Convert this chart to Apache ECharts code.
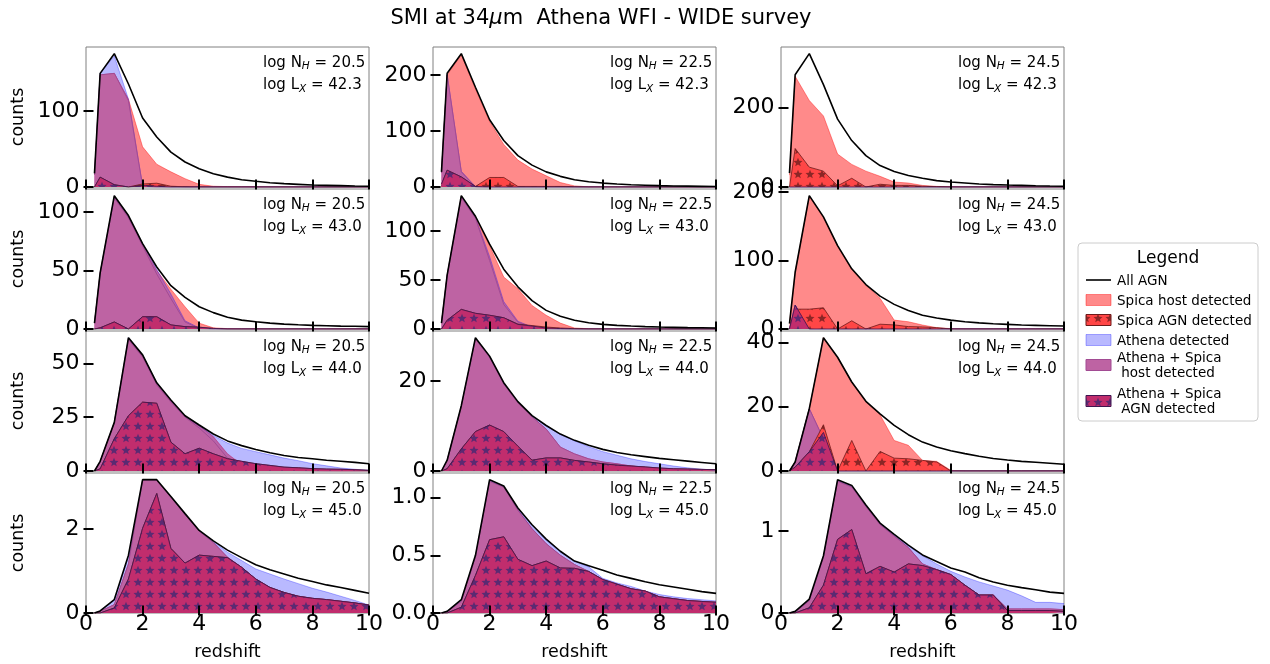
<!DOCTYPE html>
<html>
<head>
<meta charset="utf-8">
<script src="https://cdn.jsdelivr.net/npm/echarts@6/dist/echarts.min.js"></script>
<style>html,body{margin:0;padding:0;background:#fff}#chart{width:1270px;height:664px}</style>
</head>
<body>
<div id="chart"></div>
<script>
// ---------------- data ----------------
const redshift = [0.3,0.5,1,1.5,2,2.5,3,3.5,4,4.5,5,5.5,6,6.5,7,7.5,8,8.5,9,9.5,10];
const xTickStep = 2;
const nhLabels = ['20.5','22.5','24.5'];          // columns
const lxLabels = ['42.3','43.0','44.0','45.0'];   // rows
const yTickStep = [100,100,200, 50,50,100, 25,20,20, 2,0.5,1];
const yTickDecimals = [0,0,0, 0,0,0, 0,0,0, 0,1,0];

// panels in reading order: row (log Lx) by column (log NH)
const allAGN = [
  [18,150,176,136,91,66,46,33,24,17.5,13,9.6,7.5,5.7,4.4,3.5,2.6,2.2,1.8,1.3,1],
  [27,203,238,178,120,83,56,39,27,19,13,9.5,7,5.3,4,3.2,2.4,1.8,1.5,1.2,0.9],
  [35,283,336,258,171,117,79,54,39,29,22,16,12.5,10,7.5,6,5,4.2,3.3,2.5,2],
  [5,48,114,97,73,53,37,27,19,14,10,7.6,6.2,5,4.2,3.6,3.1,2.8,2.5,2.3,2],
  [6,55,136,115,86.5,61,43,29,19,13,9,6.4,4.7,3.7,3,2.4,2,1.7,1.4,1.2,1],
  [8,83,195,164,122,88,65,48,36,27,20,16,13,10.6,9,7.7,6.8,5.8,5.3,4.8,4.3],
  [0,4.5,22.6,62,54,41,33,25.7,21.4,17.2,14,11.8,10,8.5,7.2,6.3,5.7,5,4.5,4,3.4],
  [0,2.4,14.5,29.6,25.5,19.6,15.4,12.3,10.1,8.2,6.8,5.7,4.8,4.1,3.6,3.2,2.8,2.5,2.2,1.9,1.6],
  [0,2.8,19.4,41.5,35.4,27.7,21.7,17.8,14.2,11.3,9,7.5,6.3,5.4,4.6,3.9,3.4,3,2.7,2.4,2.1],
  [0,0.05,0.32,1.38,3.18,3.18,2.78,2.37,1.97,1.72,1.5,1.32,1.15,1.03,0.93,0.83,0.75,0.67,0.61,0.54,0.47],
  [0,0.015,0.115,0.5,1.155,1.1,0.91,0.765,0.64,0.535,0.45,0.41,0.37,0.33,0.3,0.27,0.245,0.225,0.205,0.185,0.17],
  [0,0.02,0.17,0.7,1.63,1.56,1.32,1.1,0.96,0.83,0.71,0.63,0.55,0.5,0.43,0.38,0.34,0.31,0.285,0.255,0.24]
];
const spicaHost = [
  [16,148,150,116,53,30,20,11,3.5,1,0.5,0.3,0.2,0.1,0,0,0,0,0,0,0],
  [26,200,236,175,117,76,48,32,20,8,2,0.3,0,0,0,0,0,0,0,0,0],
  [30,279,218,179,83,57,40,27,12.5,10,4,1.5,0.5,0,0,0,0,0,0,0,0],
  [5,48,113,96,72,50,34,19,5,1,0.3,0,0,0,0,0,0,0,0,0,0],
  [6,55,135,114,85,53,41,24,14,6,1,0.3,0,0,0,0,0,0,0,0,0],
  [8,83,194,163,121,87,64,45,13,10.6,5.8,2,0.5,0,0,0,0,0,0,0,0],
  [0,4.4,22.4,61.5,53.5,40.5,32.5,25,21,16,8,3,1,0.6,0.4,0.3,0.2,0.1,0,0,0],
  [0,2.3,14.3,29.3,25.2,19.3,15.1,12,9.3,5.3,3.8,2.7,2,1.6,1.1,0.8,0.5,0.3,0.2,0.1,0],
  [0,2.8,19.4,41.5,35.4,27.7,21.7,17.5,9.5,8,3.3,3,0.2,0,0,0,0,0,0,0,0],
  [0,0.04,0.2,1.17,3.16,3.16,2.76,2.35,1.95,1.68,1.33,1.09,0.81,0.61,0.49,0.4,0.35,0.32,0.28,0.24,0.19],
  [0,0.01,0.1,0.48,1.14,1.09,0.89,0.73,0.6,0.5,0.42,0.36,0.29,0.25,0.21,0.19,0.14,0.124,0.108,0.1,0.093],
  [0,0.01,0.15,0.68,1.61,1.54,1.3,1.08,0.94,0.8,0.6,0.53,0.47,0.34,0.22,0.22,0.05,0.05,0.05,0.05,0.04]
];
const spicaAGN = [
  [0,13,3,0,4,5,1,0.3,0,0,0,0,0,0,0,0,0,0,0,0,0],
  [5,30,18,1,17,17,1,1,1,1,0.5,0,0,0,0,0,0,0,0,0,0],
  [0,97,50,40,3,22,0,7,4,4,2,1,0,0,0,0,0,0,0,0,0],
  [0,1,6,0,10.5,10.5,3.5,2,1.5,0.5,0,0,0,0,0,0,0,0,0,0,0],
  [0,9,20,16,14,11.5,5,3.5,2,1,0.5,0,0,0,0,0,0,0,0,0,0],
  [0,29,29,31,0,12,0,7,6,3.5,3,2,0,0,0,0,0,0,0,0,0],
  [0,1,15,25.7,32,31.5,13.4,8,10.6,8,5.7,4.5,3.4,2.6,1.8,1.5,1.1,0.9,0.8,0.6,0.3],
  [0,0.5,4.9,8.75,10.2,8.75,5.5,2.4,2.9,2.9,2.35,2,1.6,1.3,1.1,0.9,0.66,0.5,0.45,0.35,0.3],
  [0,1.2,6,14.4,0,9.5,0,6.1,4,3.8,3.3,2.8,0,0,0,0,0,0,0,0,0],
  [0,0,0.12,0.81,2.02,2.85,1.54,1.19,1.38,1.35,1.32,1.09,0.81,0.61,0.49,0.4,0.35,0.32,0.28,0.24,0.19],
  [0,0,0.05,0.325,0.635,0.66,0.465,0.41,0.45,0.39,0.387,0.36,0.29,0.25,0.21,0.19,0.14,0.124,0.108,0.1,0.093],
  [0,0,0.064,0.34,0.9,1.02,0.48,0.57,0.5,0.6,0.58,0.53,0.47,0.34,0.22,0.22,0.03,0.03,0.03,0.03,0.02]
];
const athena = [
  [17,150,173,116,2,0,0,0,0,0,0,0,0,0,0,0,0,0,0,0,0],
  [26,201,28,1,0,0,0,0,0,0,0,0,0,0,0,0,0,0,0,0,0],
  [0,0,0,0,0,0,0,0,0,0,0,0,0,0,0,0,0,0,0,0,0],
  [5,48,113,96,73,51,30,7,1,0,0,0,0,0,0,0,0,0,0,0,0],
  [6,55,135,114,74,28,8,2,0.5,0,0,0,0,0,0,0,0,0,0,0,0],
  [0,35,0,0,0,0,0,0,0,0,0,0,0,0,0,0,0,0,0,0,0],
  [0,4.5,22.5,62,54,41,33,25.5,21,16.5,13,10.5,9,7.5,6,4.8,3.4,2.4,1.4,0.8,0.3],
  [0,2.4,14.4,29.5,25.4,19.5,15.3,12.2,10,8.1,6.7,5.4,4.3,3.5,2.7,2.1,1.6,1.1,0.7,0.4,0.15],
  [0,2.8,19.4,10,0,0,0,0,0,0,0,0,0,0,0,0,0,0,0,0,0],
  [0,0.05,0.3,1.35,3.17,3.17,2.77,2.36,1.96,1.7,1.45,1.25,1.05,0.93,0.81,0.7,0.59,0.5,0.4,0.3,0.19],
  [0,0.015,0.11,0.49,1.15,1.095,0.9,0.75,0.63,0.53,0.45,0.4,0.3,0.26,0.23,0.19,0.16,0.14,0.125,0.115,0.105],
  [0,0.02,0.16,0.69,1.62,1.55,1.31,1.09,0.95,0.82,0.7,0.6,0.51,0.44,0.38,0.33,0.28,0.21,0.13,0.13,0.115]
];
const bothHost = [
  [16,148,150,114,1,0,0,0,0,0,0,0,0,0,0,0,0,0,0,0,0],
  [25,200,27,0,0,0,0,0,0,0,0,0,0,0,0,0,0,0,0,0,0],
  [0,0,0,0,0,0,0,0,0,0,0,0,0,0,0,0,0,0,0,0,0],
  [5,47,112,95,71,47,26,6,0.5,0,0,0,0,0,0,0,0,0,0,0,0],
  [6,54,134,113,70,25,7,2,0.3,0,0,0,0,0,0,0,0,0,0,0,0],
  [0,35,0,0,0,0,0,0,0,0,0,0,0,0,0,0,0,0,0,0,0],
  [0,4.3,22.3,61,53,40,32,25,20,14,6,2,0.7,0.5,0.3,0.2,0.1,0,0,0,0],
  [0,2.3,14.3,29.3,25.2,19.3,15.1,12,9.3,5.3,3.8,2.7,2,1.6,1.1,0.8,0.5,0.3,0.2,0.1,0],
  [0,2.8,19.4,10,0,0,0,0,0,0,0,0,0,0,0,0,0,0,0,0,0],
  [0,0.04,0.2,1.17,3.16,3.16,2.76,2.35,1.95,1.68,1.33,1.09,0.81,0.61,0.49,0.4,0.35,0.32,0.28,0.24,0.19],
  [0,0.01,0.1,0.48,1.14,1.09,0.89,0.73,0.6,0.5,0.42,0.36,0.29,0.25,0.21,0.19,0.14,0.124,0.108,0.1,0.093],
  [0,0.01,0.15,0.68,1.61,1.54,1.3,1.08,0.94,0.8,0.6,0.53,0.47,0.34,0.22,0.22,0.05,0.05,0.05,0.05,0.04]
];
const bothAGN = [
  [0,13,3,0,2,1,0,0,0,0,0,0,0,0,0,0,0,0,0,0,0],
  [5,30,18,1,0,0,0,0,0,0,0,0,0,0,0,0,0,0,0,0,0],
  [0,0,0,0,0,0,0,0,0,0,0,0,0,0,0,0,0,0,0,0,0],
  [0,1,6,0,10.5,10.5,3.5,2,1.5,0.5,0,0,0,0,0,0,0,0,0,0,0],
  [0,9,20,16,14,11.5,4.7,3,1,0.5,0,0,0,0,0,0,0,0,0,0,0],
  [0,35,0,0,0,0,0,0,0,0,0,0,0,0,0,0,0,0,0,0,0],
  [0,1,15,25.7,32,31.5,13.4,8,10.6,8,5.7,4.5,3.4,2.6,1.8,1.5,1.1,0.9,0.8,0.6,0.3],
  [0,0.5,4.9,8.75,10.2,8.75,5.5,2.4,2.9,2.9,2.35,2,1.6,1.3,1.1,0.9,0.66,0.5,0.45,0.35,0.3],
  [0,1.2,6,12,0,0,0,0,0,0,0,0,0,0,0,0,0,0,0,0,0],
  [0,0,0.12,0.81,2.02,2.85,1.54,1.19,1.38,1.35,1.32,1.09,0.81,0.61,0.49,0.4,0.35,0.32,0.28,0.24,0.19],
  [0,0,0.05,0.325,0.635,0.66,0.465,0.41,0.45,0.39,0.387,0.36,0.29,0.25,0.21,0.19,0.14,0.124,0.108,0.1,0.093],
  [0,0,0.064,0.34,0.9,1.02,0.48,0.57,0.5,0.6,0.58,0.53,0.47,0.34,0.22,0.22,0.03,0.03,0.03,0.03,0.02]
];
const legendNames = ['All AGN','Spica host detected','Spica AGN detected','Athena detected','Athena + Spica\n host detected','Athena + Spica\n AGN detected'];

// ---------------- styling / layout ----------------
const FONT = 'DejaVu Sans';
const colLeft = [86, 433, 781];
const panelW = 283;
const rowBottom = [187, 329, 471, 613];
const panelH = 140;

function starPattern(bg, fg) {
  const c = document.createElement('canvas');
  c.width = 12; c.height = 12;
  const ctx = c.getContext('2d');
  ctx.fillStyle = bg; ctx.fillRect(0, 0, 12, 12);
  ctx.fillStyle = fg;
  ctx.beginPath();
  for (let k = 0; k < 10; k++) {
    const r = k % 2 ? 2.1 : 4.7;
    const a = -Math.PI / 2 + k * Math.PI / 5;
    const px = 6 + r * Math.cos(a), py = 6.5 + r * Math.sin(a);
    if (k) ctx.lineTo(px, py); else ctx.moveTo(px, py);
  }
  ctx.closePath(); ctx.fill();
  return { image: c, repeat: 'repeat' };
}
const patSpicaAGN = starPattern('#ff4646', '#8c2626');
const patBothAGN = starPattern('#c12d6d', '#5b2a72');
const cRed = 'rgba(255,0,0,0.46)';
const cBlue = 'rgba(0,0,255,0.275)';
const cPurple = '#be63a3';

const grids = [], xAxes = [], yAxes = [], series = [], graphics = [];
const tick = { show: true, length: 5, inside: false, lineStyle: { color: '#000', width: 2 } };

for (let p = 0; p < 12; p++) {
  const r = Math.floor(p / 3), c = p % 3;
  const top = rowBottom[r] - panelH;
  grids.push({ left: colLeft[c], top: top, width: panelW, height: panelH, show: true,
    borderColor: '#808080', borderWidth: 1, backgroundColor: 'transparent' });

  const ymax = 1.05 * Math.max.apply(null, allAGN[p]);
  const step = yTickStep[p];
  const yvals = [];
  for (let k = 0; k * step <= ymax + 1e-9; k++) yvals.push(+(k * step).toFixed(6));

  xAxes.push({ gridIndex: p, type: 'value', position: 'bottom', min: 0, max: 10, interval: xTickStep,
    offset: -2.5, z: 10, axisLine: { show: false }, axisTick: tick, splitLine: { show: false },
    axisLabel: { show: r === 3, fontSize: 22, color: '#000', fontFamily: FONT, margin: 3 },
    name: r === 3 ? 'redshift' : '', nameLocation: 'middle', nameGap: 33,
    nameTextStyle: { fontSize: 17.5, color: '#000', fontFamily: FONT } });
  xAxes.push({ gridIndex: p, type: 'value', position: 'top', min: 0, max: 10, interval: xTickStep,
    offset: -2.5, z: 10, axisLine: { show: false }, axisTick: tick, splitLine: { show: false },
    axisLabel: { show: false } });

  const yCommon = { gridIndex: p, type: 'value', min: 0, max: ymax, interval: step, offset: -2.5, z: 10,
    axisLine: { show: false }, splitLine: { show: false },
    axisTick: Object.assign({}, tick, { customValues: yvals }) };
  yAxes.push(Object.assign({}, yCommon, { position: 'left',
    axisLabel: { show: true, customValues: yvals, fontSize: 22, color: '#000', fontFamily: FONT, margin: 9,
      formatter: v => v.toFixed(yTickDecimals[p]) },
    name: c === 0 ? 'counts' : '', nameLocation: 'middle', nameGap: 61,
    nameTextStyle: { fontSize: 17.5, color: '#000', fontFamily: FONT } }));
  yAxes.push(Object.assign({}, yCommon, { position: 'right', axisLabel: { show: false } }));

  const base = { type: 'line', xAxisIndex: 2 * p, yAxisIndex: 2 * p, showSymbol: false, symbol: 'none',
    silent: true, animation: false, smooth: false, clip: true, emphasis: { disabled: true } };
  const pts = arr => redshift.map((z, i) => [z, arr[i]]);
  series.push(Object.assign({}, base, { name: 'Spica host detected', z: 2, data: pts(spicaHost[p]),
    lineStyle: { color: 'rgba(255,0,0,0.4)', width: 1 }, areaStyle: { color: cRed, opacity: 1 } }));
  series.push(Object.assign({}, base, { name: 'Athena detected', z: 3, data: pts(athena[p]),
    lineStyle: { color: 'rgba(0,0,255,0.3)', width: 1 }, areaStyle: { color: cBlue, opacity: 1 } }));
  series.push(Object.assign({}, base, { name: 'Athena + Spica host detected', z: 4, data: pts(bothHost[p]),
    lineStyle: { color: '#a24b93', width: 1 }, areaStyle: { color: cPurple, opacity: 1 } }));
  series.push(Object.assign({}, base, { name: 'Spica AGN detected', z: 5, data: pts(spicaAGN[p]),
    lineStyle: { color: '#6e1a1a', width: 1, opacity: 0.8 }, areaStyle: { color: patSpicaAGN, opacity: 1 } }));
  series.push(Object.assign({}, base, { name: 'Athena + Spica AGN detected', z: 6, data: pts(bothAGN[p]),
    lineStyle: { color: '#3f1650', width: 1, opacity: 0.85 }, areaStyle: { color: patBothAGN, opacity: 1 } }));
  series.push(Object.assign({}, base, { name: 'All AGN', z: 7, data: pts(allAGN[p]),
    lineStyle: { color: '#000', width: 1.6 } }));

  // panel annotation (left-aligned block in the top right corner)
  const lx = colLeft[c] + panelW - 106;
  const richA = { t: { fontSize: 15, fontFamily: FONT, fill: '#000', lineHeight: 18 },
                  s: { fontSize: 10.5, fontFamily: FONT, fontStyle: 'italic', fill: '#000', lineHeight: 10, verticalAlign: 'bottom' } };
  graphics.push({ type: 'text', x: lx, y: top + 16, z: 50, silent: true,
    style: { text: '{t|log N}{s|H}{t| = ' + nhLabels[c] + '}', align: 'left', verticalAlign: 'middle', rich: richA } });
  graphics.push({ type: 'text', x: lx, y: top + 38.5, z: 50, silent: true,
    style: { text: '{t|log L}{s|X}{t| = ' + lxLabels[r] + '}', align: 'left', verticalAlign: 'middle', rich: richA } });
}

// ---------------- legend box ----------------
const LX0 = 1078, LY0 = 243;
graphics.push({ type: 'rect', z: 60, silent: true, shape: { x: LX0, y: LY0, width: 180, height: 178, r: 4 },
  style: { fill: '#fff', stroke: '#cccccc', lineWidth: 1 } });
graphics.push({ type: 'text', z: 61, silent: true, x: 1168, y: 259,
  style: { text: 'Legend', fontSize: 17, fontFamily: FONT, fill: '#000', align: 'center', verticalAlign: 'middle' } });
const legTextX = 1117, patchX = 1086, patchW = 25, patchH = 11;
const legItems = [
  { y: 280, kind: 'line' },
  { y: 300, fill: cRed, stroke: 'rgba(255,0,0,0.4)' },
  { y: 320, fill: patSpicaAGN, stroke: '#6e1a1a' },
  { y: 340, fill: cBlue, stroke: 'rgba(0,0,255,0.3)' },
  { y: 365, fill: cPurple, stroke: '#a24b93' },
  { y: 401, fill: patBothAGN, stroke: '#3f1650' }
];
legItems.forEach((it, i) => {
  if (it.kind === 'line') {
    graphics.push({ type: 'line', z: 61, silent: true, shape: { x1: patchX, y1: it.y, x2: patchX + patchW, y2: it.y },
      style: { stroke: '#000', lineWidth: 1.6 } });
  } else {
    graphics.push({ type: 'rect', z: 61, silent: true,
      shape: { x: patchX, y: it.y - patchH / 2, width: patchW, height: patchH },
      style: { fill: it.fill, stroke: it.stroke, lineWidth: 1 } });
  }
  graphics.push({ type: 'text', z: 61, silent: true, x: legTextX, y: it.y + 1,
    style: { text: legendNames[i], fontSize: 13.5, lineHeight: 15, fontFamily: FONT, fill: '#000',
      align: 'left', verticalAlign: 'middle' } });
});

const option = {
  animation: false,
  backgroundColor: '#fff',
  title: {
    text: '{a|SMI at 34}{b|μ}{a|m  Athena WFI - WIDE survey}',
    left: 596, top: 3, textAlign: 'center',
    textStyle: { fontWeight: 'normal', rich: {
      a: { fontSize: 21, fontFamily: FONT, color: '#000', fontWeight: 'normal' },
      b: { fontSize: 21, fontFamily: FONT, color: '#000', fontWeight: 'normal', fontStyle: 'italic' } } }
  },
  grid: grids,
  xAxis: xAxes,
  yAxis: yAxes,
  series: series,
  graphic: { elements: graphics }
};
const chart = echarts.init(document.getElementById('chart'), null, { renderer: 'canvas' });
chart.setOption(option);
</script>
</body>
</html>
